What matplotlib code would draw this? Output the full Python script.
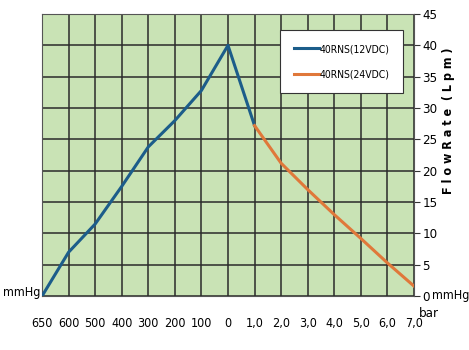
import matplotlib.pyplot as plt

x_labels = ["650", "600", "500", "400", "300", "200", "100", "0",
            "1,0", "2,0", "3,0", "4,0", "5,0", "6,0", "7,0"]
flow_12v = [0, 7, 11.5, 17.5, 23.8, 28, 32.8, 40, 27.2]
flow_24v = [27.2, 21.2, 17, 13, 9.2, 5.3, 1.6]
y_ticks = [0, 5, 10, 15, 20, 25, 30, 35, 40, 45]

plt.rcParams['font.family'] = ['DejaVu Sans']
plt.rcParams['font.stretch'] = 'condensed'

fig = plt.figure(figsize=(4.69, 3.5), dpi=100)
ax = fig.add_axes([0.0896, 0.154, 0.793, 0.806])
ax.set_facecolor("#c9e3b5")

idx_12 = list(range(len(flow_12v)))
idx_24 = list(range(len(flow_12v) - 1, len(flow_12v) - 1 + len(flow_24v)))
ax.plot(idx_12, flow_12v, color="#1c5d8a", lw=2.2, label="40RNS(12VDC)", zorder=3)
ax.plot(idx_24, flow_24v, color="#e0783a", lw=2.2, label="40RNS(24VDC)", zorder=3)

ax.set_xlim(0, len(x_labels) - 1)
ax.set_ylim(0, 45)
ax.set_xticks(range(len(x_labels)))
ax.set_xticklabels(x_labels, fontsize=9)
ax.tick_params(axis='x', length=0, pad=15)
ax.yaxis.tick_right()
ax.set_yticks(y_ticks)
ax.set_yticklabels([str(v) for v in y_ticks], fontsize=9.5)
ax.tick_params(axis='y', direction='out', length=4, pad=2, color="#333333")
ax.grid(True, color="#2a2a2a", lw=1.1)
for s in ax.spines.values():
    s.set_color("#555555")
    s.set_linewidth(0.8)

ax.yaxis.set_label_position("right")
ax.set_ylabel("F l o w R a t e  ( L p m )", fontsize=9, fontweight="bold")
ax.yaxis.set_label_coords(1.075, 0.62)

fig.text(0.006, 0.163, "mmHg", fontsize=9, ha="left", va="center")
fig.text(0.921, 0.157, "mmHg", fontsize=9, ha="left", va="center")
fig.text(0.893, 0.105, "bar", fontsize=9.5, ha="left", va="center")

leg = ax.legend(loc="upper right", bbox_to_anchor=(0.985, 0.96), fontsize=7.5,
                frameon=True, fancybox=False, edgecolor="#333333",
                borderpad=1.3, labelspacing=1.5, handlelength=2.4,
                handletextpad=0.1)
leg.get_frame().set_linewidth(0.8)
leg.get_frame().set_facecolor("white")
leg.get_frame().set_alpha(1)

fig.savefig("out.png", dpi=100)
